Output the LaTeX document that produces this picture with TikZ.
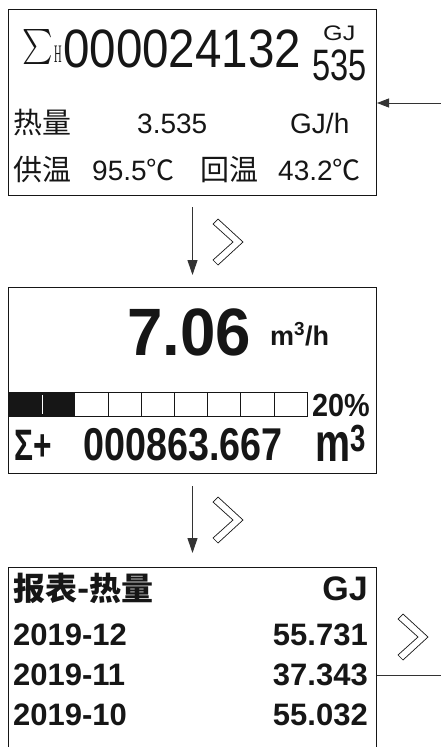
\documentclass[tikz,border=0pt]{standalone}
\usepackage{fontspec}
\usepackage{graphicx}
\setmainfont{Liberation Sans}
\newfontfamily\cjk{Noto Sans CJK SC}
\newfontfamily\serif{Liberation Serif}
\usetikzlibrary{arrows.meta}
\definecolor{ink}{HTML}{161616}
\definecolor{wire}{HTML}{333333}
\newcommand{\fs}[1]{\fontsize{#1}{#1}\selectfont}
\tikzset{
  screen/.style={draw=ink, line width=1pt, minimum width=368pt, anchor=north west, inner sep=0pt},
  txt/.style={inner sep=0pt, anchor=base west, text=ink},
  rtxt/.style={txt, anchor=base east},
  flow/.style={-{Triangle[length=15pt,width=10pt]}, draw=wire, line width=1pt},
  feed/.style={-{Triangle[length=12pt,width=9pt]}, draw=wire, line width=1pt},
  cell/.style={draw=ink, line width=0.8pt, minimum width=33.2pt, minimum height=24pt, inner sep=0pt, anchor=north west},
  chev/.pic={\draw[ink, line width=0.7pt, fill=white] (-10,-23) -- (15,0) -- (-10,23) -- (-15,18) -- (5,0) -- (-15,-18) -- cycle;}
}
\begin{document}
\begin{tikzpicture}[x=1pt, y=-1pt]
  \useasboundingbox (0,0) rectangle (441,747);
  \clip (0,0) rectangle (441,747);

  % screens
  \node[screen, minimum height=186pt] (heat) at (8,9) {};
  \node[screen, minimum height=186pt] (flow) at (8,287) {};
  \node[screen, minimum height=200pt] (rep) at (8,567) {};

  % heat screen
  \node[inner sep=0pt, text=ink] (sig) at (38,47) {\scalebox{2.9}[3.5]{$\sum$}};
  \node[txt, font=\serif\fs{14}] (hs) at (54,62) {\scalebox{0.75}[1.8]{H}};
  \node[txt, font=\fs{54}] (acc) at (63,67) {\scalebox{0.88}[1]{000024132}};
  \node[txt, font=\fs{21}] (accu) at (323,40) {\scalebox{1.2}[1]{GJ}};
  \node[txt, font=\fs{44}] (accf) at (312,80) {\scalebox{0.74}[1]{535}};
  \node[txt, font=\cjk\fs{29}] (pl) at (13,133) {热量};
  \node[txt, font=\fs{28}] (pv) at (137,133) {3.535};
  \node[txt, font=\fs{28}] (pu) at (290,133) {GJ/h};
  \node[txt, font=\cjk\fs{29}] (sl) at (13,180) {供温};
  \node[txt, font=\fs{28}] (sv) at (92,180) {95.5{\cjk ℃}};
  \node[txt, font=\cjk\fs{29}] (rl) at (200,180) {回温};
  \node[txt, font=\fs{28}] (rv) at (278,180) {43.2{\cjk ℃}};

  % flow screen
  \node[txt, font=\bfseries\fs{67}] (rate) at (127,355) {\scalebox{0.95}[1]{7.06}};
  \node[txt, font=\bfseries\fs{27}] (rateu) at (270,345) {m\textsuperscript{3}/h};
  \foreach \i in {0,...,8}
    \node[cell] (c\i) at ({8+\i*33.2},392) {};
  \fill[ink] (c0.north west) rectangle (c1.south east);
  \draw[white, line width=0.8pt] ([yshift=-3pt]c0.north east) -- ([yshift=3pt]c0.south east);
  \node[txt, font=\bfseries\fs{32}] (pct) at (312,416) {\scalebox{0.9}[1]{20\%}};
  \node[txt, font=\bfseries\fs{44}] (tl) at (14,460) {\scalebox{0.72}[1]{Σ+}};
  \node[txt, font=\bfseries\fs{46}] (tv) at (83,460) {\scalebox{0.82}[1]{000863.667}};
  \node[txt, font=\bfseries\fs{54}] (tu) at (315,461) {\scalebox{0.73}[1]{m\textsuperscript{3}}};

  % report screen
  \node[txt, font=\cjk\bfseries\fs{32}] (rh) at (13,600) {报表-热量};
  \node[rtxt, font=\bfseries\fs{34}] (ru) at (368,600) {GJ};
  \node[txt, font=\bfseries\fs{31}] (d1) at (13,645) {2019-12};
  \node[rtxt, font=\bfseries\fs{31}] (v1) at (368,645) {55.731};
  \node[txt, font=\bfseries\fs{31}] (d2) at (13,685) {2019-11};
  \node[rtxt, font=\bfseries\fs{31}] (v2) at (368,685) {37.343};
  \node[txt, font=\bfseries\fs{31}] (d3) at (13,725) {2019-10};
  \node[rtxt, font=\bfseries\fs{31}] (v3) at (368,725) {55.032};

  % connectors
  \coordinate (in) at (441,103);
  \coordinate (out) at (441,675);
  \draw[feed] (in) -- (heat.east |- in);
  \draw[wire, line width=1pt] (rep.east |- out) -- (out);
  \draw[flow] ([yshift=-11pt]heat.south) -- ([yshift=12pt]flow.north);
  \draw[flow] ([yshift=-12pt]flow.south) -- ([yshift=14pt]rep.north);
  \pic at (228,242) {chev};
  \pic at (228,520) {chev};
  \pic at (413,637) {chev};
\end{tikzpicture}
\end{document}
